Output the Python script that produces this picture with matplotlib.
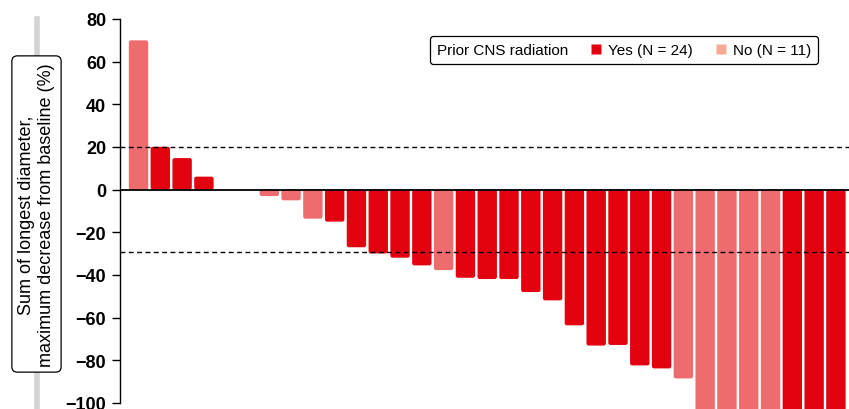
import numpy as np
import matplotlib.pyplot as plt
from matplotlib.patches import FancyBboxPatch
from matplotlib.lines import Line2D
from matplotlib.offsetbox import HPacker

plt.rcParams['font.family'] = ['Liberation Sans', 'DejaVu Sans']

# best change from baseline per patient (%), NaN = no bar drawn
change = [70, 20.1, 14.8, 6.1, np.nan, np.nan,
          -3.0, -5.0, -13.6, -15.0, -27.0, -29.9, -31.9, -35.5, -37.7,
          -41.3, -41.9, -41.9, -48.0, -51.9, -63.6, -73.1, -72.8, -82.4,
          -83.8, -88.5, -105, -105, -105, -105, -105, -105, -105]
prior_rt = ['No', 'Yes', 'Yes', 'Yes', '', '',
            'No', 'No', 'No', 'Yes', 'Yes', 'Yes', 'Yes', 'Yes', 'No',
            'Yes', 'Yes', 'Yes', 'Yes', 'Yes', 'Yes', 'Yes', 'Yes', 'Yes',
            'Yes', 'No', 'No', 'No', 'No', 'No', 'Yes', 'Yes', 'Yes']
n_yes, n_no = 24, 11
upper_cut, lower_cut = 20, -29
yticks = [80, 60, 40, 20, 0, -20, -40, -60, -80, -100]

bar_col = {'Yes': '#E3000F', 'No': '#EF6C6E'}
leg_col = {'Yes': '#E3000F', 'No': '#F5AA96'}

W, H = 849, 410
fig = plt.figure(figsize=(W / 100, H / 100), dpi=100)
ax_left, ax_top, ax_bot = 120, 20, 425.3
ax = fig.add_axes([ax_left / W, (H - ax_bot) / H, (W - ax_left) / W, (ax_bot - ax_top) / H])

x = np.arange(len(change))
xlim = (-0.85, 32.6)
ylim = (-110, 80)
ax.set_xlim(*xlim)
ax.set_ylim(*ylim)

# rounded bar ends: match pixel radius in both directions
px_x = (W - ax_left) / (xlim[1] - xlim[0])
px_y = (ax_bot - ax_top) / (ylim[1] - ylim[0])
r_px = 2.2
bw = 0.89
for xi, v, g in zip(x, change, prior_rt):
    if np.isnan(v):
        continue
    y0 = min(0, v)
    p = FancyBboxPatch((xi - bw / 2, y0), bw, abs(v),
                       boxstyle=f"round,pad=0,rounding_size={r_px / px_x}",
                       mutation_aspect=px_x / px_y,
                       fc=bar_col[g], ec='none', zorder=2)
    ax.add_patch(p)

ax.axhline(0, color='black', lw=1.3, zorder=3)
for c in (upper_cut, lower_cut):
    ax.axhline(c, color='black', lw=1.0, dashes=(3.5, 2.5), zorder=4)

for s in ('top', 'right', 'bottom'):
    ax.spines[s].set_visible(False)
ax.spines['left'].set_bounds(-100, 80)
ax.spines['left'].set_linewidth(1.0)
ax.set_xticks([])
ax.set_yticks(yticks)
ax.tick_params(axis='y', length=6, width=1, pad=4, labelsize=13)
for t in ax.get_yticklabels():
    t.set_fontweight('bold')

# y label in a rounded box over a grey guide bar
fig.add_artist(Line2D([36.5 / W, 36.5 / W], [0, 1 - 20 / H], color='#d3d3d3', lw=4, zorder=1))
fig.text(36.5 / W, 1 - 215 / H, "Sum of longest diameter,\nmaximum decrease from baseline (%)",
         rotation=90, ha='center', va='center', ma='center', fontsize=13, linespacing=1.2,
         bbox=dict(boxstyle='round,pad=0.35,rounding_size=0.3', fc='white', ec='black', lw=0.9),
         zorder=5)

handles = [Line2D([], [], ls='none', marker='s', ms=6.5, mfc=leg_col['Yes'], mec='none'),
           Line2D([], [], ls='none', marker='s', ms=6.5, mfc=leg_col['No'], mec='none')]
labels = [f"Yes (N = {n_yes})", f"No (N = {n_no})"]
leg = ax.legend(handles, labels, title="Prior CNS radiation", ncol=2, fontsize=11,
                title_fontsize=11, loc='upper right',
                bbox_to_anchor=(818 / W, 1 - 37 / H), bbox_transform=fig.transFigure,
                borderaxespad=0, borderpad=0.45, handlelength=0.8, handletextpad=0.4,
                columnspacing=1.4, frameon=True, fancybox=True, framealpha=1,
                edgecolor='black')
leg.get_frame().set_linewidth(0.9)
old = leg._legend_box
title_box, handle_box = old.get_children()
new = HPacker(pad=old.pad, sep=16, align='center', children=[title_box, handle_box])
new.set_figure(fig)
new.axes = ax
leg._legend_box = new
new.set_offset(leg._findoffset)

fig.savefig('out.png', dpi=100)
